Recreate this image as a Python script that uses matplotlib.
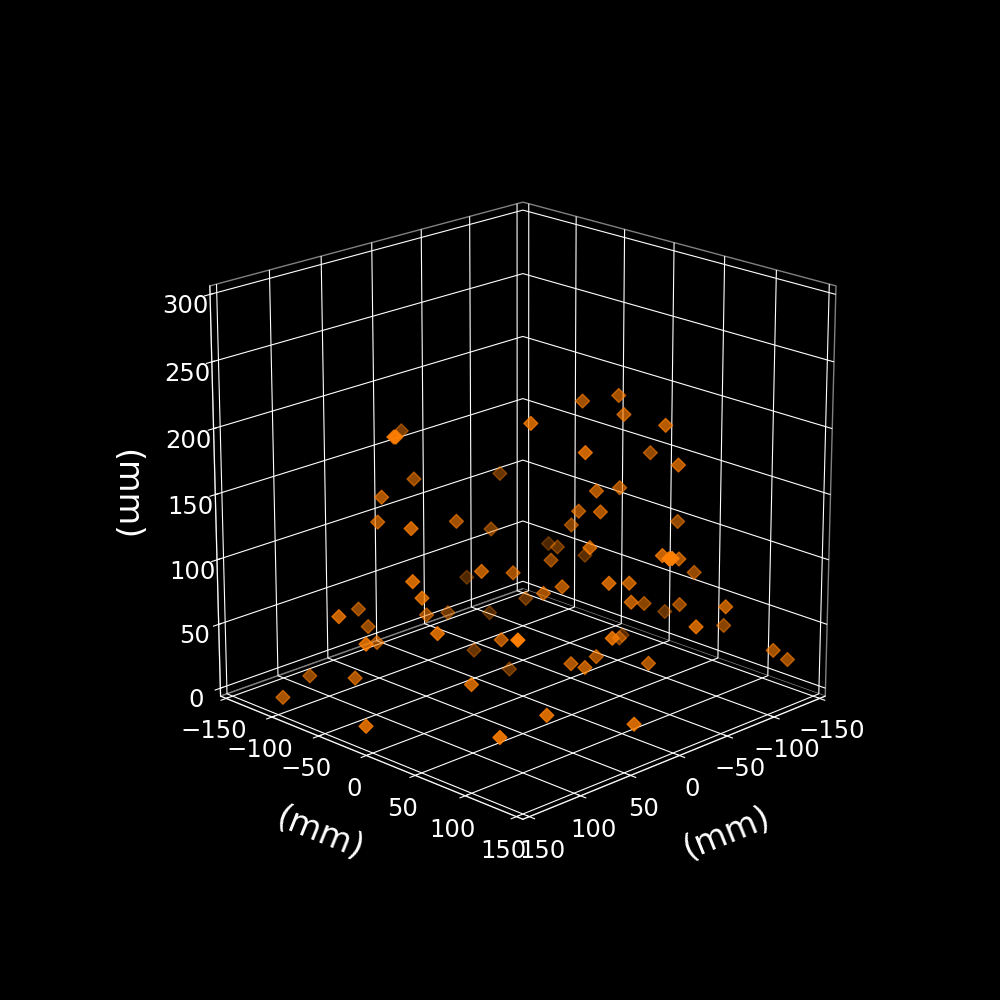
import matplotlib
matplotlib.use("Agg")
import matplotlib.pyplot as plt

plt.style.use("dark_background")

# values
x = [-60,-6,-25,-45,-45,-39,-43,-50,25,-18,-78,-62,-25,-85,-33,-26,34,5,-19,72,71,12,30,66,72,72,87,78,124,81,79,47,13,83,121,77,117,110,147,135,-11,-7,-37,-32,29,73,-1,-16,68,-2,-2,-23,-4,-65,-91,45,82,-79,-72,-84,-96,-84,-64,-98,-50,-15,-17,-75,-98,-39,-37,-74,-107,-85,-84,-111,-55,-115,-124,-42,-1]
y = [1,2,38,-69,30,18,36,0,-43,-51,-51,-26,43,-20,-4,-85,-8,-5,68,-58,-57,-114,-82,-78,-76,-41,-24,-24,-62,-88,-80,-52,-65,-3,-37,-73,-102,-61,-98,-23,29,14,-34,-67,7,68,-52,-30,16,47,61,52,86,35,13,69,59,19,31,61,35,74,35,61,91,130,131,84,78,69,73,51,41,76,122,96,120,141,147,86,111]
z = [207,203,185,138,149,132,135,114,125,106,79,87,114,76,90,57,98,90,95,197,197,174,149,145,128,132,100,85,73,60,48,56,45,65,58,37,14,22,7,3,84,76,51,32,48,77,15,2,27,32,33,33,62,31,20,12,3,211,201,197,167,170,148,120,114,131,131,103,85,90,77,60,42,63,74,45,66,37,29,32,4]
ticks = [-150, -100, -50, 0, 50, 100, 150]
z_ticks = [0, 50, 100, 150, 200, 250, 300]

fig = plt.figure(figsize=(10, 10), dpi=100)
ax = fig.add_axes([0.125, 0.11, 0.775, 0.77], projection="3d")
ax.set_box_aspect((1, 1, 1), zoom=0.95)
ax.scatter(x, y, z, c="#ff7f00", marker="D", s=50)

# limits sit a little outside the last ticks, so grid and pane edge make a double line
ax.set_xlim(-156.25, 156.25)
ax.set_ylim(-156.25, 156.25)
ax.set_zlim(-6.25, 306.25)
ax.set_xticks(ticks)
ax.set_yticks(ticks)
ax.set_zticks(z_ticks)
ax.view_init(elev=19.5, azim=45)

ax.xaxis.set_rotate_label(False)
ax.yaxis.set_rotate_label(False)
ax.zaxis.set_rotate_label(False)
ax.set_xlabel("(mm)", fontsize=24, labelpad=21, rotation=22)
ax.set_ylabel("(mm)", fontsize=24, labelpad=21, rotation=-22)
ax.set_zlabel("(mm)", fontsize=24, labelpad=21, rotation=-90)
ax.tick_params(labelsize=17.5)

for axis in (ax.xaxis, ax.yaxis, ax.zaxis):
    axis.set_pane_color((0, 0, 0, 1))
    axis.pane.set_edgecolor((0.5, 0.5, 0.5, 1))

fig.savefig("out.png", facecolor="black")
